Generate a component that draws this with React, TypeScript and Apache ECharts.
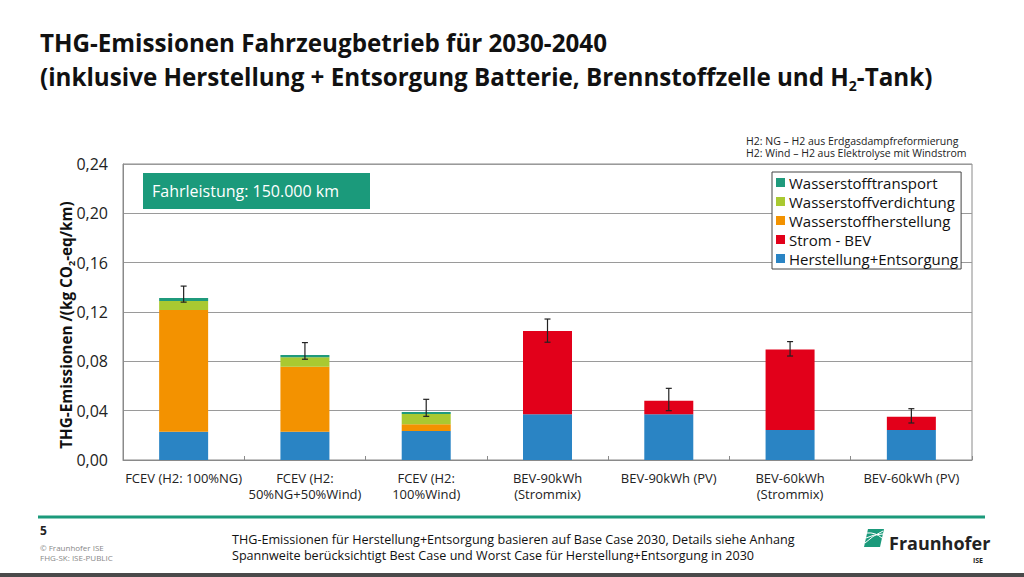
import React, { useEffect, useRef } from "react";
import * as echarts from "echarts";

const categories = [
  "FCEV (H2: 100%NG)",
  "FCEV (H2:\n50%NG+50%Wind)",
  "FCEV (H2:\n100%Wind)",
  "BEV-90kWh\n(Strommix)",
  "BEV-90kWh (PV)",
  "BEV-60kWh\n(Strommix)",
  "BEV-60kWh (PV)",
];

const herstellungEntsorgung = [0.023, 0.023, 0.0235, 0.037, 0.037, 0.0243, 0.0243];
const stromBEV = [0, 0, 0, 0.0676, 0.011, 0.0652, 0.0108];
const wasserstoffHerstellung = [0.0987, 0.0527, 0.0055, 0, 0, 0, 0];
const wasserstoffVerdichtung = [0.0073, 0.0076, 0.0083, 0, 0, 0, 0];
const wasserstoffTransport = [0.0024, 0.0019, 0.0017, 0, 0, 0, 0];

const errorLow = [0.128, 0.0817, 0.0354, 0.0955, 0.04, 0.0843, 0.03];
const errorHigh = [0.141, 0.0952, 0.0492, 0.1143, 0.0581, 0.096, 0.0416];

const yTicks = { min: 0, max: 0.24, interval: 0.04 };

const FONT = "'Open Sans', 'Noto Sans', sans-serif";

export default function App() {
  const ref = useRef<HTMLDivElement>(null);

  useEffect(() => {
    if (!ref.current) return;
    const chart = echarts.init(ref.current, undefined, { renderer: "svg" });

    const barBase = {
      type: "bar",
      stack: "total",
      barWidth: 49,
    };

    const option: any = {
      animation: false,
      backgroundColor: "#ffffff",
      textStyle: { fontFamily: FONT },
      grid: {
        left: 123,
        right: 52,
        top: 164,
        bottom: 117,
        show: true,
        borderColor: "#8a8a8a",
        borderWidth: 1,
      },
      legend: {
        data: [
          "Wasserstofftransport",
          "Wasserstoffverdichtung",
          "Wasserstoffherstellung",
          "Strom - BEV",
          "Herstellung+Entsorgung",
        ],
        orient: "vertical",
        left: 772,
        top: 172,
        icon: "rect",
        itemWidth: 9,
        itemHeight: 9,
        itemGap: 4,
        padding: [3, 3, 3, 4],
        borderColor: "#444",
        borderWidth: 1,
        backgroundColor: "#ffffff",
        textStyle: { fontSize: 15, color: "#111", fontFamily: FONT, padding: [0, 0, 0, -1] },
      },
      xAxis: {
        type: "category",
        data: categories,
        axisLine: { lineStyle: { color: "#8a8a8a" } },
        axisTick: { show: true, inside: true, length: 4, lineStyle: { color: "#8a8a8a" } },
        axisLabel: {
          fontSize: 13,
          color: "#222",
          lineHeight: 16,
          margin: 10,
          interval: 0,
          fontFamily: FONT,
        },
      },
      yAxis: {
        type: "value",
        min: yTicks.min,
        max: yTicks.max,
        interval: yTicks.interval,
        axisLine: { show: true, lineStyle: { color: "#8a8a8a" } },
        axisTick: { show: false },
        splitLine: { lineStyle: { color: "#9a9a9a" } },
        axisLabel: {
          fontSize: 16,
          color: "#222",
          margin: 15,
          fontFamily: FONT,
          formatter: (v: number) => v.toFixed(2).replace(".", ","),
        },
      },
      series: [
        { ...barBase, name: "Herstellung+Entsorgung", data: herstellungEntsorgung, itemStyle: { color: "#2a84c4" } },
        { ...barBase, name: "Strom - BEV", data: stromBEV, itemStyle: { color: "#e2001a" } },
        { ...barBase, name: "Wasserstoffherstellung", data: wasserstoffHerstellung, itemStyle: { color: "#f39200" } },
        { ...barBase, name: "Wasserstoffverdichtung", data: wasserstoffVerdichtung, itemStyle: { color: "#a9c931" } },
        { ...barBase, name: "Wasserstofftransport", data: wasserstoffTransport, itemStyle: { color: "#1f9a7c" } },
        {
          type: "custom",
          name: "Spannweite",
          z: 10,
          data: categories.map((_, i) => [i, errorLow[i], errorHigh[i]]),
          encode: { x: 0, y: [1, 2] },
          renderItem: (params: any, api: any) => {
            const x = api.value(0);
            const lo = api.coord([x, api.value(1)]);
            const hi = api.coord([x, api.value(2)]);
            const hw = 3;
            const st = { stroke: "#222", lineWidth: 1.2 };
            return {
              type: "group",
              children: [
                { type: "line", shape: { x1: lo[0], y1: lo[1], x2: hi[0], y2: hi[1] }, style: st },
                { type: "line", shape: { x1: hi[0] - hw, y1: hi[1], x2: hi[0] + hw, y2: hi[1] }, style: st },
                { type: "line", shape: { x1: lo[0] - hw, y1: lo[1], x2: lo[0] + hw, y2: lo[1] }, style: st },
              ],
            };
          },
        },
      ],
      graphic: [
        {
          type: "text",
          left: 40,
          top: 30,
          style: {
            text: "THG-Emissionen Fahrzeugbetrieb für 2030-2040",
            font: `bold 24.2px ${FONT}`,
            fill: "#111",
          },
        },
        {
          type: "text",
          left: 40,
          top: 64,
          style: {
            text: "{a|(inklusive Herstellung + Entsorgung Batterie, Brennstoffzelle und H}{s|2}{a|-Tank)}",
            fill: "#111",
            rich: {
              a: { font: `bold 24.2px ${FONT}`, fill: "#111", lineHeight: 32, verticalAlign: "middle" },
              s: { font: `bold 14px ${FONT}`, fill: "#111", lineHeight: 32, verticalAlign: "bottom" },
            },
          },
        },
        {
          type: "text",
          x: 746,
          y: 141,
          style: {
            text: "H2: NG – H2 aus Erdgasdampfreformierung",
            font: `10.5px ${FONT}`,
            fill: "#222",
            verticalAlign: "middle",
          },
        },
        {
          type: "text",
          x: 746,
          y: 153,
          style: {
            text: "H2: Wind – H2 aus Elektrolyse mit Windstrom",
            font: `10.5px ${FONT}`,
            fill: "#222",
            verticalAlign: "middle",
          },
        },
        {
          type: "rect",
          shape: { x: 143, y: 173, width: 227, height: 36 },
          style: { fill: "#1b9a7b" },
          z: 20,
        },
        {
          type: "text",
          x: 152,
          y: 191,
          z: 21,
          style: {
            text: "Fahrleistung: 150.000 km",
            font: `16px ${FONT}`,
            fill: "#ffffff",
            verticalAlign: "middle",
          },
        },
        {
          type: "text",
          x: 66,
          y: 325,
          rotation: Math.PI / 2,
          style: {
            text: "{a|THG-Emissionen /(kg CO}{s|2}{a|-eq/km)}",
            align: "center",
            verticalAlign: "middle",
            rich: {
              a: { font: `bold 15.3px ${FONT}`, fill: "#111", lineHeight: 20, verticalAlign: "middle" },
              s: { font: `bold 9px ${FONT}`, fill: "#111", lineHeight: 20, verticalAlign: "bottom" },
            },
          },
        },
        {
          type: "line",
          shape: { x1: 38, y1: 517, x2: 985, y2: 517 },
          style: { stroke: "#1b9a7b", lineWidth: 3 },
        },
        {
          type: "text",
          x: 40,
          y: 530,
          style: { text: "5", font: `bold 12px ${FONT}`, fill: "#222", verticalAlign: "middle" },
        },
        {
          type: "text",
          x: 40,
          y: 547,
          style: { text: "© Fraunhofer ISE", font: `8px ${FONT}`, fill: "#888", verticalAlign: "middle" },
        },
        {
          type: "text",
          x: 40,
          y: 557,
          style: { text: "FHG-SK: ISE-PUBLIC", font: `8px ${FONT}`, fill: "#888", verticalAlign: "middle" },
        },
        {
          type: "text",
          x: 232,
          y: 539,
          style: {
            text: "THG-Emissionen für Herstellung+Entsorgung basieren auf Base Case 2030, Details siehe Anhang",
            font: `12.6px ${FONT}`,
            fill: "#111",
            verticalAlign: "middle",
          },
        },
        {
          type: "text",
          x: 232,
          y: 555,
          style: {
            text: "Spannweite berücksichtigt Best Case und Worst Case für Herstellung+Entsorgung in 2030",
            font: `12.6px ${FONT}`,
            fill: "#111",
            verticalAlign: "middle",
          },
        },
        {
          type: "polygon",
          shape: { points: [[864, 547], [868, 529], [884, 529], [880, 547]] },
          style: { fill: "#1b9a7b" },
        },
        {
          type: "bezierCurve",
          shape: { x1: 865, y1: 543, x2: 883, y2: 531, cpx1: 872, cpy1: 536 },
          style: { stroke: "#ffffff", lineWidth: 1, fill: "none" },
        },
        {
          type: "bezierCurve",
          shape: { x1: 866, y1: 538, x2: 883, y2: 534, cpx1: 874, cpy1: 534 },
          style: { stroke: "#ffffff", lineWidth: 1, fill: "none" },
        },
        {
          type: "bezierCurve",
          shape: { x1: 867, y1: 533, x2: 882, y2: 538, cpx1: 875, cpy1: 532 },
          style: { stroke: "#ffffff", lineWidth: 1, fill: "none" },
        },
        {
          type: "text",
          x: 889,
          y: 543,
          style: { text: "Fraunhofer", font: `bold 18px ${FONT}`, fill: "#222", verticalAlign: "middle" },
        },
        {
          type: "text",
          x: 983,
          y: 560,
          style: { text: "ISE", font: `bold 7px ${FONT}`, fill: "#222", verticalAlign: "middle", align: "right" },
        },
        {
          type: "rect",
          shape: { x: 0, y: 573, width: 1024, height: 4 },
          style: { fill: "#4a4a4a" },
        },
      ],
    };

    chart.setOption(option);
    return () => chart.dispose();
  }, []);

  return (
    <div
      ref={ref}
      style={{ position: "fixed", left: 0, top: 0, width: 1024, height: 577 }}
    />
  );
}
